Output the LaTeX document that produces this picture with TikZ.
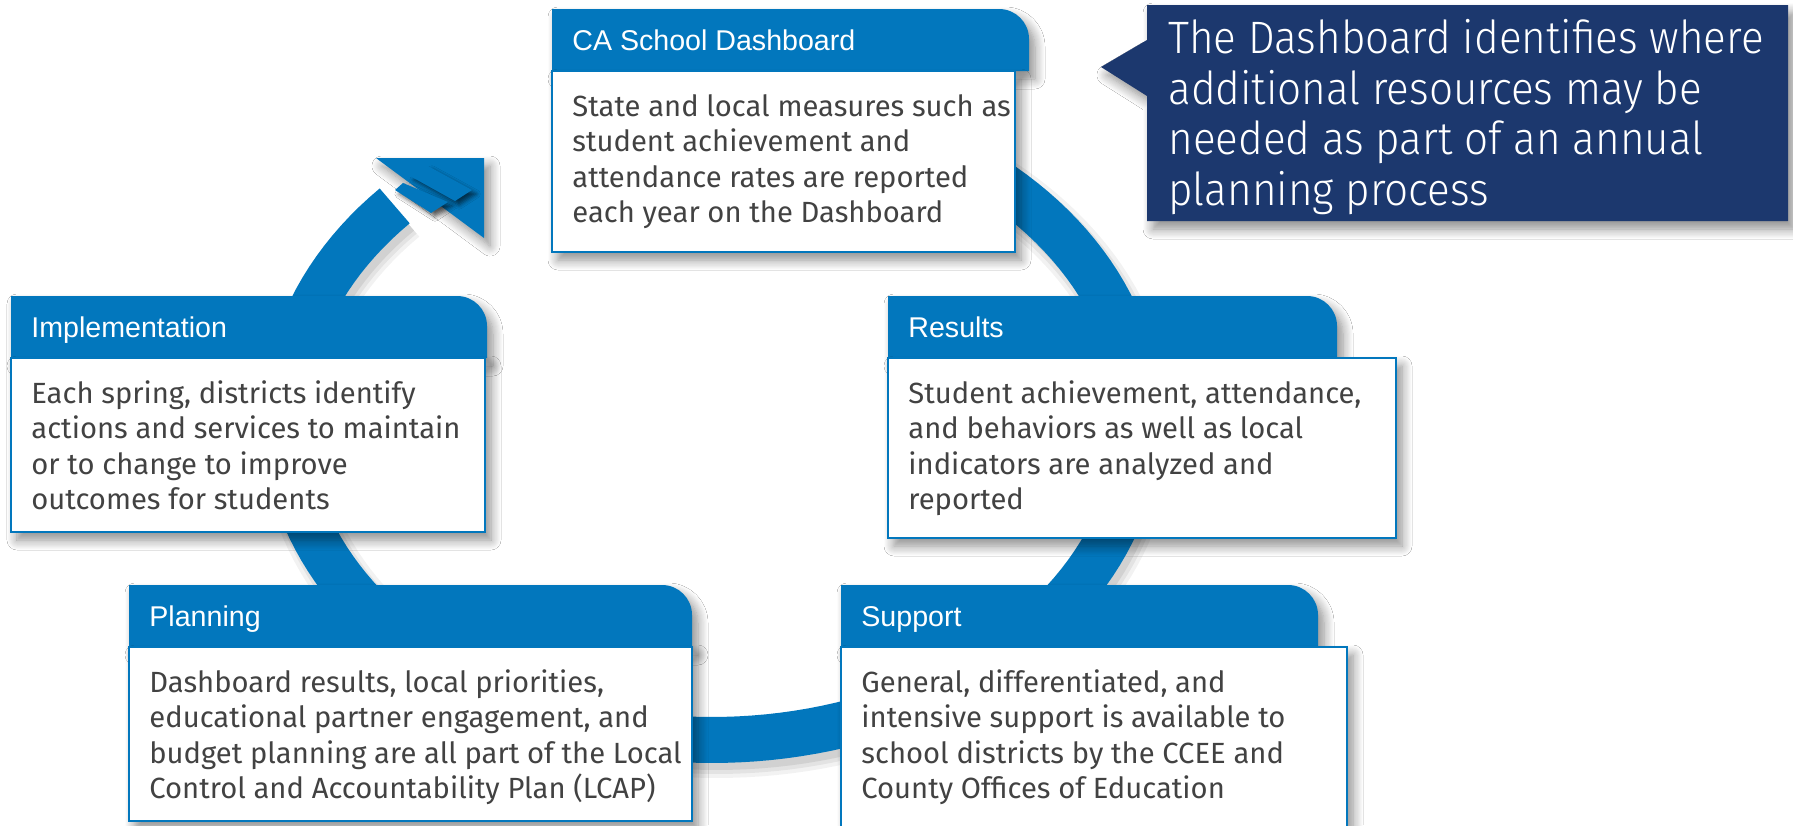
\documentclass[tikz,border=0pt]{standalone}
\usepackage{fontspec}
\setmainfont{Fira Sans}
\newfontfamily\headfont{Liberation Sans}
\newfontfamily\notefont{Fira Sans}[UprightFont=* Light, FakeStretch=0.93]
\usetikzlibrary{shadows.blur}
\definecolor{cdeblue}{HTML}{0277BD}
\definecolor{navy}{HTML}{1C386E}
\definecolor{bodyink}{HTML}{424242}

\tikzset{
  soft/.style={blur shadow={shadow xshift=3pt, shadow yshift=-4pt, shadow blur radius=5pt, shadow blur steps=10, shadow opacity=45}},
  headbar/.style={fill=cdeblue, soft},
  bodybox/.style={fill=white, draw=cdeblue, line width=1pt, soft},
  headtext/.style={font=\headfont\fontsize{14.3}{17}\selectfont, text=white, inner sep=0pt, anchor=base west},
  % multi-line nodes sit on the baseline of their last line
  bodytext/.style={font=\fontsize{14.6}{17.75}\selectfont, text=bodyink, align=left, inner sep=0pt, anchor=base west},
  notetext/.style={font=\notefont\fontsize{22.7}{25.25}\selectfont, text=white, align=left, inner sep=0pt, anchor=base west},
  ring/.style={draw=cdeblue, line width=23pt, line join=round},
}

\begin{document}
\begin{tikzpicture}[x=0.5pt, y=-0.5pt]
  \useasboundingbox (0,0) rectangle (1793,825);
  \fill[white] (0,0) rectangle (1793,825);

  % the yearly cycle: soft shadow first, then the band
  \foreach \w/\o in {30/0.05, 26/0.06, 22/0.08}
    \draw[black, opacity=\o, line width=\w pt, shift={(5,8)}]
      plot[domain=-95:222, samples=160] ({712+427*cos(\x)},{420+320*sin(\x)});
  \draw[ring] plot[domain=-95:222, samples=160] ({712+427*cos(\x)},{420+320*sin(\x)});

  % arrow head with its two folds
  \fill[cdeblue, soft] (376,158) -- (484,158) -- (484,238) -- cycle;
  \fill[cdeblue, blur shadow={shadow xshift=2pt, shadow yshift=-2pt, shadow opacity=60}]
    (410,176) -- (428,166) -- (472,190) -- (455,201) -- cycle;
  \fill[cdeblue, blur shadow={shadow xshift=2pt, shadow yshift=-2pt, shadow opacity=60}]
    (395,190) -- (403,183) -- (448,202) -- (431,213) -- cycle;

  % stages: name/x/y/header width/body width/body height/title/text
  \foreach \nm/\x/\y/\hw/\bw/\bh/\ttl/\txt in {
    dash/552/9/477/463/181/{CA School Dashboard}/{State and local measures such as\\student achievement and\\attendance rates are reported\\each year on the Dashboard},
    impl/11/296/476/474/174/{Implementation}/{Each spring, districts identify\\actions and services to maintain\\or to change to improve\\outcomes for students},
    res/888/296/449/508/180/{Results}/{Student achievement, attendance,\\and behaviors as well as local\\indicators are analyzed and\\reported},
    plan/129/585/563/563/174/{Planning}/{Dashboard results, local priorities,\\educational partner engagement, and\\budget planning are all part of the Local\\Control and Accountability Plan (LCAP)},
    supp/841/585/477/506/200/{Support}/{General, differentiated, and\\intensive support is available to\\school districts by the CCEE and\\County Offices of Education}}{
    % header bar, only the top right corner rounded
    \path[headbar] (\x,\y+62) -- (\x,\y) -- (\x+\hw-30,\y)
      .. controls (\x+\hw-13.4,\y) and (\x+\hw,\y+13.4) .. (\x+\hw,\y+30) -- (\x+\hw,\y+62) -- cycle;
    \path[bodybox] (\x,\y+62) rectangle ++(\bw,\bh);
    \node[headtext] (\nm-title) at (\x+20,\y+41) {\ttl};
    \node[bodytext] (\nm-text) at (\x+20,\y+213.5) {\txt};
  }

  % call-out
  \path[fill=navy, soft] (1147,5) -- (1788,5) -- (1788,221) -- (1147,221)
    -- (1147,96) -- (1101,67) -- (1147,40) -- cycle;
  \node[notetext] (note) at (1168,205) {The Dashboard identifies where\\additional resources may be\\needed as part of an annual\\planning process};
\end{tikzpicture}
\end{document}
